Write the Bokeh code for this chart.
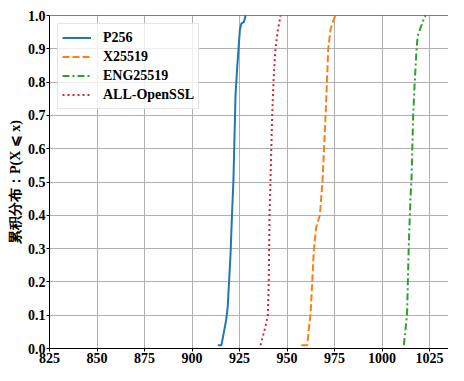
from bokeh.plotting import figure
from bokeh.models import Span, Legend, LegendItem, FixedTicker, CustomJSTickFormatter
from bokeh.embed import file_html
from bokeh.resources import INLINE

# Data
p256_x = [913.6, 915.5, 918.0, 918.8, 920.3, 921.1, 921.8, 922.9, 923.8, 925.2, 926.0, 927.3, 928.2]
p256_y = [0.01, 0.01, 0.086, 0.125, 0.285, 0.41, 0.503, 0.76, 0.845, 0.957, 0.976, 0.98, 1.0]

x25519_x = [957.5, 960.6, 961.5, 962.4, 963.3, 964.1, 965.4, 967.3, 968.7, 970.3, 971.2, 971.7, 972.9, 973.8, 975.5]
x25519_y = [0.01, 0.01, 0.058, 0.105, 0.2, 0.294, 0.365, 0.4, 0.503, 0.70, 0.825, 0.9, 0.957, 0.976, 1.0]

eng_x = [1011.5, 1012.9, 1013.2, 1014.1, 1015.0, 1015.5, 1016.4, 1017.1, 1018.2, 1018.8, 1019.9, 1022.0, 1022.9]
eng_y = [0.01, 0.086, 0.105, 0.31, 0.455, 0.503, 0.70, 0.787, 0.9, 0.938, 0.957, 0.99, 1.0]

ossl_x = [936.1, 938.7, 939.9, 940.4, 940.8, 941.3, 942.2, 943.1, 943.9, 945.2, 946.6]
ossl_y = [0.01, 0.067, 0.1, 0.2, 0.4, 0.503, 0.70, 0.825, 0.9, 0.957, 1.0]

labels = ["P256", "X25519", "ENG25519", "ALL-OpenSSL"]
x_ticks = [825, 850, 875, 900, 925, 950, 975, 1000, 1025]
y_ticks = [0.0, 0.1, 0.2, 0.3, 0.4, 0.5, 0.6, 0.7, 0.8, 0.9, 1.0]

SERIF = "Liberation Serif"

p = figure(width=448, height=365, x_range=(825, 1035), y_range=(0, 1.0),
           output_backend="svg", toolbar_location=None,
           min_border_left=49, min_border_right=0, min_border_top=15, min_border_bottom=14)
p.outline_line_color = None
p.background_fill_color = "white"

for g in (p.xgrid, p.ygrid):
    g.grid_line_color = "#b0b0b0"
    g.grid_line_width = 1

p.xaxis.ticker = FixedTicker(ticks=x_ticks)
p.yaxis.ticker = FixedTicker(ticks=y_ticks)
p.yaxis.formatter = CustomJSTickFormatter(code="return tick.toFixed(1);")

for ax in (p.xaxis[0], p.yaxis[0]):
    ax.axis_line_color = "black"
    ax.axis_line_width = 1
    ax.major_tick_line_color = "black"
    ax.major_tick_in = 0
    ax.major_tick_out = 3
    ax.minor_tick_line_color = None
    ax.major_label_text_font = SERIF
    ax.major_label_text_font_style = "bold"
    ax.major_label_text_font_size = "14px"
    ax.major_label_text_color = "black"
    ax.major_label_standoff = 1

p.yaxis.axis_label = "累积分布：P(X ⩽ x)"
p.yaxis.axis_label_text_font = SERIF
p.yaxis.axis_label_text_font_style = "bold"
p.yaxis.axis_label_text_font_size = "14px"
p.yaxis.axis_label_text_color = "black"
p.yaxis.axis_label_standoff = 2

p.add_layout(Span(location=1.0, dimension="width", line_color="black", line_width=1))

r1 = p.line(p256_x, p256_y, line_color="#1f77b4", line_width=2)
r2 = p.line(x25519_x, x25519_y, line_color="#ff7f0e", line_width=2, line_dash="7 3")
r3 = p.line(eng_x, eng_y, line_color="#2ca02c", line_width=2, line_dash="7 3 2 3")
r4 = p.line(ossl_x, ossl_y, line_color="#d62728", line_width=2, line_dash="2 3")

legend = Legend(items=[LegendItem(label=labels[0], renderers=[r1]),
                       LegendItem(label=labels[1], renderers=[r2]),
                       LegendItem(label=labels[2], renderers=[r3]),
                       LegendItem(label=labels[3], renderers=[r4])],
                location="top_left")
legend.margin = 8
legend.padding = 4
legend.spacing = 0
legend.glyph_width = 29
legend.glyph_height = 15
legend.label_height = 19
legend.label_standoff = 12
legend.label_text_font = SERIF
legend.label_text_font_style = "bold"
legend.label_text_font_size = "14px"
legend.label_text_color = "black"
legend.border_line_color = "#cccccc"
legend.border_line_width = 1
legend.background_fill_alpha = 0.8
p.add_layout(legend)

open("out.html", "w").write(file_html(p, INLINE))
